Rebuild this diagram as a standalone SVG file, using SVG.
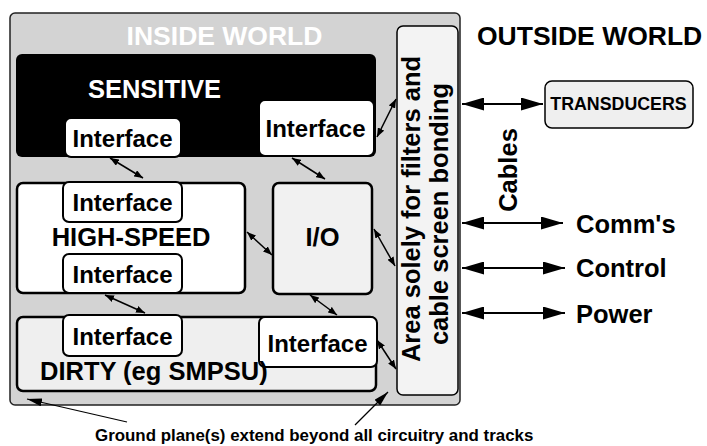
<svg xmlns="http://www.w3.org/2000/svg" width="707" height="446" viewBox="0 0 707 446">
<defs>
<style>
text{font-family:"Liberation Sans",Arial,Helvetica,sans-serif;font-weight:bold;fill:#000}
.big{font-size:25.5px}
.title{font-size:26.5px}
.if{font-size:24px;text-anchor:middle}
.ifbox{fill:#fff;stroke:#000;stroke-width:2}
.blk{stroke:#000;stroke-width:2.5}
.lt{fill:#f1f1f1}
.sm{stroke:#000;stroke-width:1.5;fill:none}
.bg{stroke:#000;stroke-width:2.2;fill:none}
.ptr{stroke:#000;stroke-width:1.2;fill:none}
</style>
<marker id="sa" viewBox="0 0 9 7" markerWidth="9" markerHeight="7" refX="9" refY="3.5" markerUnits="userSpaceOnUse" orient="auto-start-reverse"><path d="M0,0 L9,3.5 L0,7 z" fill="#000"/></marker>
<marker id="ba" viewBox="0 0 22 13" markerWidth="22" markerHeight="13" refX="22" refY="6.5" markerUnits="userSpaceOnUse" orient="auto-start-reverse"><path d="M0,0 L22,6.5 L0,13 z" fill="#000"/></marker>
<marker id="pa" viewBox="0 0 15 8" markerWidth="15" markerHeight="8" refX="15" refY="4" markerUnits="userSpaceOnUse" orient="auto"><path d="M0,0 L15,4 L0,8 z" fill="#000"/></marker>
</defs>
<rect width="707" height="446" fill="#fff"/>

<g id="inside-world">
<rect x="10" y="13" width="450" height="392" rx="5" fill="#d3d3d3" stroke="#222" stroke-width="1.5"/>
<text class="title" x="224.5" y="45" text-anchor="middle" style="fill:#fff">INSIDE WORLD</text>
</g>

<g id="sensitive">
<rect x="16" y="54" width="360" height="103" rx="6" fill="#000"/>
<text class="big" x="154.5" y="98" text-anchor="middle" style="fill:#fff">SENSITIVE</text>
<g id="sensitive-if-left"><rect class="ifbox" x="65" y="118" width="116" height="39" rx="6"/><text class="if" x="122.5" y="147">Interface</text></g>
<g id="sensitive-if-right"><rect class="ifbox" x="259" y="100" width="115" height="56" rx="6"/><text class="if" x="315.5" y="137">Interface</text></g>
</g>

<g id="high-speed">
<rect class="blk" x="17" y="183" width="228" height="110" rx="6" fill="#fff"/>
<g id="hs-if-top"><rect class="ifbox" x="63" y="182" width="119" height="40" rx="6"/><text class="if" x="122.5" y="211">Interface</text></g>
<g id="hs-if-bottom"><rect class="ifbox" x="63" y="254" width="119" height="39" rx="6"/><text class="if" x="122.5" y="283">Interface</text></g>
<text class="big" x="131" y="246" text-anchor="middle">HIGH-SPEED</text>
</g>

<g id="io">
<rect class="blk lt" x="273" y="183" width="99" height="111" rx="6"/>
<text class="big" x="322.5" y="246" text-anchor="middle">I/O</text>
</g>

<g id="dirty">
<rect class="blk" x="17" y="317" width="359" height="74" rx="6" fill="#efefef"/>
<g id="dirty-if-left"><rect class="ifbox" x="63" y="315" width="119" height="41" rx="6"/><text class="if" x="122.5" y="345">Interface</text></g>
<g id="dirty-if-right"><rect class="ifbox" x="259" y="317" width="118" height="50" rx="6"/><text class="if" x="317.5" y="352">Interface</text></g>
<text class="big" x="40" y="380">DIRTY (eg SMPSU)</text>
</g>

<g id="filter-area">
<rect x="397" y="26" width="61" height="369" rx="6" fill="#f3f3f3" stroke="#000" stroke-width="1.5"/>
<text class="big" x="420" y="209" text-anchor="middle" transform="rotate(-90 420 209)">Area  solely for filters and</text>
<text class="big" x="448" y="214" text-anchor="middle" transform="rotate(-90 448 214)">cable screen bonding</text>
</g>

<g id="outside-world">
<text class="title" x="477" y="45">OUTSIDE WORLD</text>
<text class="big" x="517" y="170" text-anchor="middle" transform="rotate(-90 517 170)">Cables</text>
</g>

<g id="transducers">
<rect x="545" y="81" width="148" height="47" rx="7" fill="#efefef" stroke="#000" stroke-width="1.5"/>
<text x="618.5" y="110" text-anchor="middle" style="font-size:17.8px">TRANSDUCERS</text>
</g>

<g id="comms"><text class="big" x="576" y="233">Comm's</text></g>
<g id="control"><text class="big" x="576" y="277">Control</text></g>
<g id="power"><text class="big" x="576" y="323">Power</text></g>

<g id="ground-note"><text x="95" y="441" style="font-size:16.9px">Ground plane(s) extend beyond all circuitry and tracks</text></g>

<g id="connectors">
<line class="sm" x1="110" y1="158" x2="143" y2="178" marker-start="url(#sa)" marker-end="url(#sa)"/>
<line class="sm" x1="292" y1="158" x2="325" y2="179" marker-start="url(#sa)" marker-end="url(#sa)"/>
<line class="sm" x1="377" y1="137" x2="396" y2="99" marker-start="url(#sa)" marker-end="url(#sa)"/>
<line class="sm" x1="247" y1="232" x2="272" y2="255" marker-start="url(#sa)" marker-end="url(#sa)"/>
<line class="sm" x1="374" y1="229" x2="395" y2="266" marker-start="url(#sa)" marker-end="url(#sa)"/>
<line class="sm" x1="105" y1="295" x2="145" y2="313" marker-start="url(#sa)" marker-end="url(#sa)"/>
<line class="sm" x1="310" y1="295" x2="337" y2="315" marker-start="url(#sa)" marker-end="url(#sa)"/>
<line class="sm" x1="377" y1="340" x2="396" y2="369" marker-start="url(#sa)" marker-end="url(#sa)"/>
<line class="bg" x1="462" y1="104" x2="543" y2="104" marker-start="url(#ba)" marker-end="url(#ba)"/>
<line class="bg" x1="462" y1="223" x2="563" y2="223" marker-start="url(#ba)" marker-end="url(#ba)"/>
<line class="bg" x1="462" y1="268" x2="565" y2="268" marker-start="url(#ba)" marker-end="url(#ba)"/>
<line class="bg" x1="462" y1="313" x2="565" y2="313" marker-start="url(#ba)" marker-end="url(#ba)"/>
<line class="ptr" x1="127" y1="422" x2="27" y2="399" marker-end="url(#pa)"/>
<line class="ptr" x1="355" y1="425" x2="388" y2="392" marker-end="url(#pa)"/>
</g>
</svg>
